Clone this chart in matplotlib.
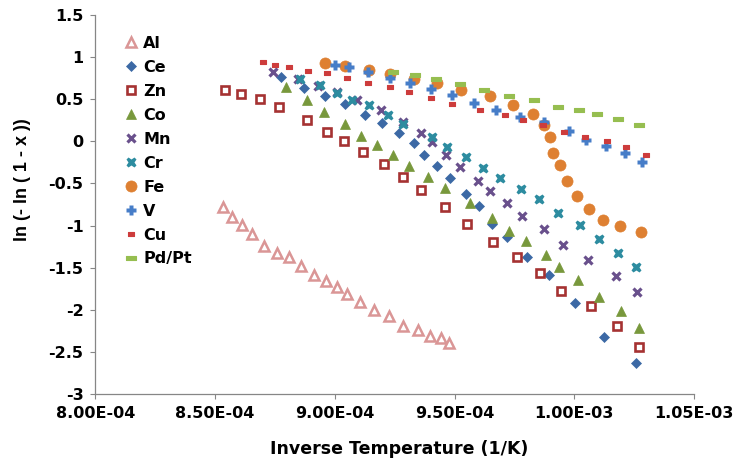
import matplotlib
matplotlib.use("agg")
import matplotlib.pyplot as plt
import numpy as np
from matplotlib.ticker import FuncFormatter, MultipleLocator

plt.rcParams["axes.unicode_minus"] = False

# inverse temperature in units of 1e-4 1/K, y = ln(-ln(1-x))
al_x = [8.534, 8.569, 8.611, 8.655, 8.704, 8.757, 8.810, 8.857, 8.914, 8.963,
        9.008, 9.049, 9.105, 9.163, 9.225, 9.283, 9.346, 9.397, 9.442, 9.478]
al_y = [-0.78, -0.90, -0.99, -1.10, -1.24, -1.33, -1.38, -1.48, -1.59, -1.66,
        -1.73, -1.82, -1.91, -2.00, -2.08, -2.19, -2.24, -2.31, -2.34, -2.40]

ce_x = [8.777, 8.872, 8.960, 9.041, 9.127, 9.198, 9.268, 9.329, 9.372, 9.426,
        9.483, 9.547, 9.603, 9.657, 9.720, 9.804, 9.893, 10.005, 10.124, 10.256]
ce_y = [0.77, 0.64, 0.54, 0.44, 0.32, 0.22, 0.10, -0.02, -0.16, -0.29,
        -0.44, -0.62, -0.77, -0.98, -1.14, -1.38, -1.59, -1.92, -2.33, -2.64]

zn_x = [8.541, 8.607, 8.689, 8.768, 8.882, 8.968, 9.037, 9.118, 9.206, 9.286,
        9.358, 9.462, 9.553, 9.661, 9.759, 9.856, 9.945, 10.068, 10.177, 10.270]
zn_y = [0.61, 0.56, 0.50, 0.41, 0.25, 0.11, 0.00, -0.12, -0.27, -0.42,
        -0.58, -0.78, -0.98, -1.20, -1.37, -1.56, -1.78, -1.96, -2.20, -2.44]

co_x = [8.796, 8.882, 8.954, 9.044, 9.110, 9.177, 9.243, 9.310, 9.387, 9.462,
        9.564, 9.655, 9.728, 9.798, 9.881, 9.938, 10.016, 10.103, 10.195, 10.271]
co_y = [0.65, 0.49, 0.35, 0.21, 0.07, -0.04, -0.16, -0.29, -0.42, -0.55,
        -0.73, -0.91, -1.06, -1.18, -1.35, -1.49, -1.65, -1.85, -2.02, -2.22]

mn_x = [8.740, 8.846, 8.931, 9.008, 9.091, 9.191, 9.283, 9.360, 9.404, 9.465,
        9.524, 9.597, 9.646, 9.721, 9.780, 9.873, 9.951, 10.058, 10.173, 10.260]
mn_y = [0.83, 0.74, 0.66, 0.59, 0.49, 0.37, 0.23, 0.10, -0.01, -0.16,
        -0.30, -0.47, -0.59, -0.73, -0.89, -1.04, -1.23, -1.41, -1.60, -1.79]

cr_x = [8.854, 8.936, 9.010, 9.073, 9.143, 9.223, 9.286, 9.404, 9.468, 9.547,
        9.617, 9.689, 9.779, 9.853, 9.932, 10.022, 10.104, 10.183, 10.257]
cr_y = [0.74, 0.67, 0.58, 0.49, 0.43, 0.31, 0.21, 0.05, -0.07, -0.19,
        -0.31, -0.43, -0.57, -0.69, -0.85, -0.99, -1.16, -1.33, -1.49]

fe_x = [8.957, 9.041, 9.142, 9.230, 9.329, 9.428, 9.527, 9.646, 9.745, 9.827,
        9.875, 9.898, 9.913, 9.941, 9.971, 10.013, 10.062, 10.119, 10.193, 10.278]
fe_y = [0.93, 0.90, 0.85, 0.80, 0.74, 0.69, 0.61, 0.54, 0.43, 0.33,
        0.19, 0.05, -0.14, -0.28, -0.47, -0.65, -0.80, -0.93, -1.01, -1.08]

v_x = [8.999, 9.060, 9.138, 9.231, 9.315, 9.401, 9.488, 9.582, 9.674, 9.773,
       9.874, 9.978, 10.051, 10.131, 10.211, 10.281]
v_y = [0.91, 0.89, 0.83, 0.75, 0.69, 0.62, 0.55, 0.46, 0.38, 0.29,
       0.23, 0.12, 0.02, -0.06, -0.14, -0.24]

cu_x = [8.699, 8.750, 8.810, 8.889, 8.968, 9.052, 9.137, 9.231, 9.309, 9.400,
        9.488, 9.606, 9.710, 9.784, 9.868, 9.957, 10.046, 10.135, 10.218, 10.299]
cu_y = [0.95, 0.91, 0.88, 0.84, 0.81, 0.75, 0.70, 0.65, 0.59, 0.52,
        0.45, 0.37, 0.31, 0.25, 0.19, 0.11, 0.05, 0.00, -0.07, -0.16]

pd_x = [9.244, 9.334, 9.424, 9.522, 9.623, 9.727, 9.832, 9.934, 10.018, 10.096,
        10.183, 10.271]
pd_y = [0.83, 0.79, 0.74, 0.68, 0.61, 0.54, 0.49, 0.41, 0.37, 0.33, 0.27, 0.20]

x_scale = 1e-4

# bar shaped markers for Cu and Pd/Pt
short_bar = [(-1, -0.55), (1, -0.55), (1, 0.55), (-1, 0.55), (-1, -0.55)]
long_bar = [(-1, -0.3), (1, -0.3), (1, 0.3), (-1, 0.3), (-1, -0.3)]

series = [
    ("Al", al_x, al_y, dict(marker="^", ms=7, mfc="white", mec="#DA9696", mew=1.8)),
    ("Ce", ce_x, ce_y, dict(marker="D", ms=4.8, mfc="#3C69A5", mec="#3C69A5", mew=0.5)),
    ("Zn", zn_x, zn_y, dict(marker="s", ms=5.6, mfc="white", mec="#A53232", mew=1.9)),
    ("Co", co_x, co_y, dict(marker="^", ms=7.5, mfc="#78983C", mec="#78983C", mew=0.5)),
    ("Mn", mn_x, mn_y, dict(marker="x", ms=6, mec="#69508C", mew=2.3)),
    ("Cr", cr_x, cr_y, dict(marker="X", ms=7.5, mfc="#2D8CA0", mec="none")),
    ("Fe", fe_x, fe_y, dict(marker="o", ms=8, mfc="#DE8032", mec="#DE8032", mew=0.5)),
    ("V", v_x, v_y, dict(marker="P", ms=6.5, mfc="#467DC8", mec="none")),
    ("Cu", cu_x, cu_y, dict(marker=short_bar, ms=5, mfc="#CD3C3C", mec="#CD3C3C", mew=0.8)),
    ("Pd/Pt", pd_x, pd_y, dict(marker=long_bar, ms=7.5, mfc="#96BE50", mec="#96BE50", mew=0.8)),
]

fig = plt.figure(figsize=(7.34, 4.70), dpi=100)
ax = fig.add_axes([0.130, 0.1623, 0.8155, 0.8051])

for name, xs, ys, style in series:
    ax.plot(np.array(xs) * x_scale, ys, linestyle="none", label=name, **style)

ax.set_xlim(8.0e-4, 1.05e-3)
ax.set_ylim(-3, 1.5)
ax.xaxis.set_major_locator(MultipleLocator(0.5e-4))
ax.yaxis.set_major_locator(MultipleLocator(0.5))
ax.xaxis.set_major_formatter(FuncFormatter(lambda v, p: f"{v:.2E}"))
ax.yaxis.set_major_formatter(FuncFormatter(lambda v, p: f"{round(v, 2):g}" if abs(v) > 1e-9 else "0"))

for side in ("top", "right"):
    ax.spines[side].set_visible(False)
for side in ("left", "bottom"):
    ax.spines[side].set_color("#868686")
    ax.spines[side].set_linewidth(0.9)

ax.tick_params(direction="out", length=3.6, width=0.8, color="#868686", pad=5)
for lab in ax.get_xticklabels() + ax.get_yticklabels():
    lab.set_fontfamily("DejaVu Sans")
    lab.set_fontweight("bold")
    lab.set_fontsize(11.5)

ax.set_xlabel("Inverse Temperature (1/K)", family="DejaVu Sans", weight="bold",
              size=12.5, va="center")
ax.xaxis.set_label_coords(0.507, -0.146)
ax.set_ylabel("ln (- ln ( 1 - x ))", family="Liberation Sans", weight="bold",
              size=13, va="center", ha="center")
ax.yaxis.set_label_coords(-0.1218, 0.567)

ax.legend(loc="upper left", bbox_to_anchor=(124.6 / 734, 1 - 36 / 470),
          bbox_transform=fig.transFigure, frameon=False, borderpad=0,
          borderaxespad=0, handlelength=0.8, handletextpad=0.37,
          labelspacing=0.56, numpoints=1,
          prop=dict(family="DejaVu Sans", weight="bold", size=11.5))

fig.savefig("out.png", dpi=100)
plt.close(fig)
